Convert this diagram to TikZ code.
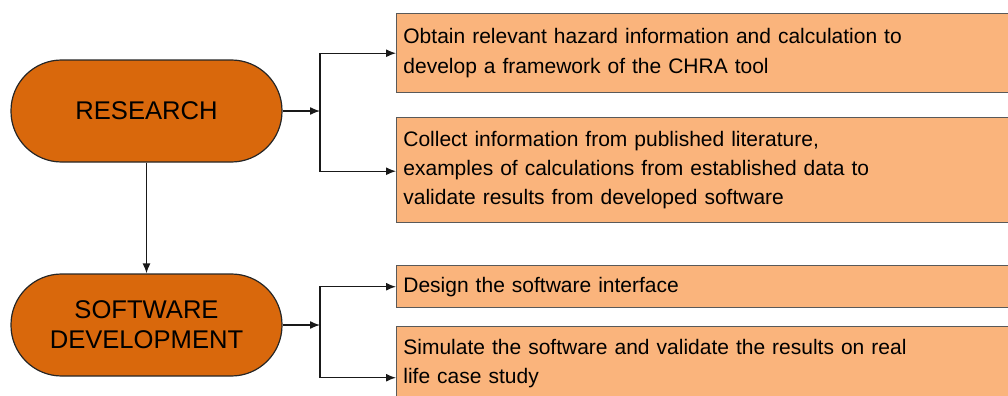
\documentclass[tikz,border=0pt]{standalone}
\usepackage{fontspec}
\setmainfont{Liberation Sans}
\usetikzlibrary{positioning}
\usetikzlibrary{arrows.meta}
\definecolor{phasefill}{HTML}{D9680C}
\definecolor{taskfill}{HTML}{FAB47C}

\begin{document}
\begin{tikzpicture}[x=0.75pt,y=-0.75pt,
	phase/.style={draw=black!85, line width=0.9pt, fill=phasefill, rounded corners=38pt, minimum width=203.25pt, minimum height=76.5pt, align=center, font=\fontsize{19.2}{22.5}\selectfont},
	task/.style={draw=black!65, line width=1.1pt, fill=taskfill, anchor=north west, text width=470pt, inner xsep=5pt, align=left, font=\fontsize{15.75}{22}\selectfont},
	link/.style={-{Latex[length=7.5pt,width=6pt]}, black!90, line width=1pt}]
		\useasboundingbox (0,0) rectangle (1008,396);
		\clip (0,0) rectangle (1008,396);
		\node[phase] (research) at (146.5,111) {RESEARCH};
		\node[phase] (software) at (146.5,325) {SOFTWARE\\DEVELOPMENT};
		\node[task, minimum height=59.25pt] (obtain) at (396,13) {Obtain relevant hazard information and calculation to\\develop a framework of the CHRA tool};
		\node[task, minimum height=78.75pt] (collect) at (396,117) {Collect information from published literature,\\examples of calculations from established data to\\validate results from developed software};
		\node[task, minimum height=31.5pt] (design) at (396,265) {Design the software interface};
		\node[task, minimum height=55.5pt] (simulate) at (396,326) {Simulate the software and validate the results on real\\life case study};
		\coordinate (rj) at (320,111);
		\coordinate (sj) at (320,325);
		\draw[link] (research) -- (software);
		\draw[link] (research.east) -- (rj);
		\draw[link] (rj) |- (obtain.west);
		\draw[link] (rj) |- ([yshift=-0.75pt]collect.west);
		\draw[link] (software.east) -- (sj);
		\draw[link] (sj) |- (design.west);
		\draw[link] (sj) |- ([yshift=-10.5pt]simulate.west);
		\end{tikzpicture}
\end{document}
